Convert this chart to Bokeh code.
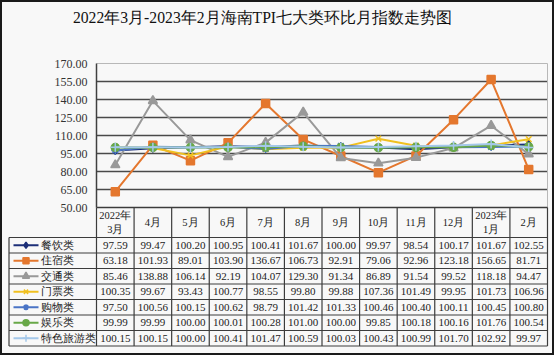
from bokeh.plotting import figure
from bokeh.models import Range1d, ColumnDataSource
from bokeh.core.properties import value
from bokeh.embed import file_html
from bokeh.resources import INLINE

months = ["2022年\n3月", "4月", "5月", "6月", "7月", "8月", "9月", "10月", "11月", "12月", "2023年\n1月", "2月"]
series_names = ["餐饮类", "住宿类", "交通类", "门票类", "购物类", "娱乐类", "特色旅游类"]
catering = [97.59, 99.47, 100.20, 100.95, 100.41, 101.67, 100.00, 99.97, 98.54, 100.17, 101.67, 102.55]
lodging = [63.18, 101.93, 89.01, 103.90, 136.67, 106.73, 92.91, 79.06, 92.96, 123.18, 156.65, 81.71]
transport = [85.46, 138.88, 106.14, 92.19, 104.07, 129.30, 91.34, 86.89, 91.54, 99.52, 118.18, 94.47]
tickets = [100.35, 99.67, 93.43, 100.77, 98.55, 99.80, 99.88, 107.36, 101.49, 99.95, 101.73, 106.96]
shopping = [97.50, 100.56, 100.15, 100.62, 98.79, 101.42, 101.33, 100.46, 100.40, 100.11, 100.45, 100.80]
entertainment = [99.99, 99.99, 100.00, 100.01, 100.28, 101.00, 100.00, 99.85, 100.18, 100.16, 101.76, 100.54]
special_tour = [100.15, 100.15, 100.00, 100.41, 101.47, 100.59, 100.03, 100.43, 100.99, 101.70, 102.92, 99.97]
y_ticks = [50, 65, 80, 95, 110, 125, 140, 155, 170]
title_text = "2022年3月-2023年2月海南TPI七大类环比月指数走势图"

series = [catering, lodging, transport, tickets, shopping, entertainment, special_tour]
colors = ["#1d2f78", "#e4772e", "#999999", "#f0c020", "#4a74c6", "#68a848", "#a4c8ea"]
markers = ["diamond", "square", "triangle", "x", "asterisk", "circle", "cross"]
msizes = [8, 8, 9, 8, 8, 8, 9]

BG = "#f8f8f8"
SERIF = "Liberation Serif"
W, H = 554, 355
n = len(months)
ymin, ymax = y_ticks[0], y_ticks[-1]

# pixel layout (page coords)
X0_PX = 96              # page x of the first month column's left edge
PLOT_W = 451            # width of the month columns
ppu = PLOT_W / n        # px per month
ppy = 144 / (ymax - ymin)   # px per index unit
TOP_PX = 63             # page y of the 170 line

x_start = -X0_PX / ppu
x_end = x_start + W / ppu
y_end = ymax + TOP_PX / ppy
y_start = y_end - H / ppy

def px_x(px):
    return x_start + px / ppu

p = figure(width=W, height=H, x_range=Range1d(x_start, x_end), y_range=Range1d(y_start, y_end),
           output_backend="svg", toolbar_location=None,
           min_border_left=0, min_border_right=0, min_border_top=0, min_border_bottom=0)
p.background_fill_color = BG
p.border_fill_color = BG
p.outline_line_color = "#1a1a1a"
p.outline_line_width = 3
p.axis.visible = False
p.grid.visible = False

# title
p.text(x=[px_x(262)], y=[y_end - 17 / ppy], text=[title_text],
       text_font=value(SERIF), text_font_size="15.7px", text_align="center", text_baseline="middle",
       text_color="#111111")

xs = [i + 0.5 for i in range(n)]

# ---- chart frame, grid and y labels ----
inner = y_ticks[1:-1]
p.segment(x0=[0] * len(inner), x1=[n] * len(inner), y0=inner, y1=inner,
          line_color="#4a4a4a", line_width=1.5)
p.segment(x0=[0, n], x1=[n, n], y0=[ymax, ymin], y1=[ymax, ymax], line_color="#b8b8b8", line_width=1)
p.segment(x0=[0], x1=[0], y0=[ymin], y1=[ymax], line_color="#404040", line_width=1.5)
p.text(x=[-9 / ppu] * len(y_ticks), y=y_ticks, text=[f"{v:.2f}" for v in y_ticks],
       text_font=value(SERIF), text_font_size="12px", text_align="right", text_baseline="middle",
       text_color="#333333")

for vals, c, m, s in zip(series, colors, markers, msizes):
    src = ColumnDataSource(dict(x=xs, y=vals))
    p.line("x", "y", source=src, line_color=c, line_width=2)
    p.scatter("x", "y", source=src, marker=m, size=s, line_color=c, fill_color=c, line_width=1.5)

# ---- data table below the chart ----
head_h = 30 / ppy
row_h = 15.5 / ppy
head_bot = ymin - head_h
nr = len(series)
row_lines = [head_bot - k * row_h for k in range(nr + 1)]
left_x = px_x(8.5)
line_col = "#3c3c3c"

p.segment(x0=[left_x] * len(row_lines), x1=[n] * len(row_lines), y0=row_lines, y1=row_lines,
          line_color=line_col, line_width=1.2)
p.segment(x0=[0], x1=[n], y0=[ymin], y1=[ymin], line_color=line_col, line_width=1.5)
vx = list(range(n + 1))
p.segment(x0=vx, x1=vx, y0=[ymin] * len(vx), y1=[row_lines[-1]] * len(vx), line_color=line_col, line_width=1.2)
p.segment(x0=[left_x], x1=[left_x], y0=[head_bot], y1=[row_lines[-1]], line_color=line_col, line_width=1.2)

# header
p.text(x=xs, y=[ymin - head_h / 2] * n, text=months, text_font=value(SERIF), text_font_size="10.5px",
       text_align="center", text_baseline="middle", text_color="#222222", text_line_height=1.2)

# cells
cx, cy, ct = [], [], []
row_mid = [head_bot - (r + 0.5) * row_h for r in range(nr)]
for r, vals in enumerate(series):
    for i, v in enumerate(vals):
        cx.append(i + 0.5); cy.append(row_mid[r]); ct.append(f"{v:.2f}")
p.text(x=cx, y=cy, text=ct, text_font=value(SERIF), text_font_size="11px",
       text_align="center", text_baseline="middle", text_color="#222222")

# legend keys in the label column
for r, (c, m, s) in enumerate(zip(colors, markers, msizes)):
    p.segment(x0=[px_x(13)], x1=[px_x(38)], y0=[row_mid[r]], y1=[row_mid[r]], line_color=c, line_width=2)
    p.scatter(x=[px_x(25.5)], y=[row_mid[r]], marker=m, size=s - 2, line_color=c, fill_color=c, line_width=1.5)
p.text(x=[px_x(40)] * nr, y=row_mid, text=series_names,
       text_font=value(SERIF), text_font_size="10.5px", text_align="left", text_baseline="middle",
       text_color="#222222")

open("out.html", "w").write(file_html(p, INLINE))
